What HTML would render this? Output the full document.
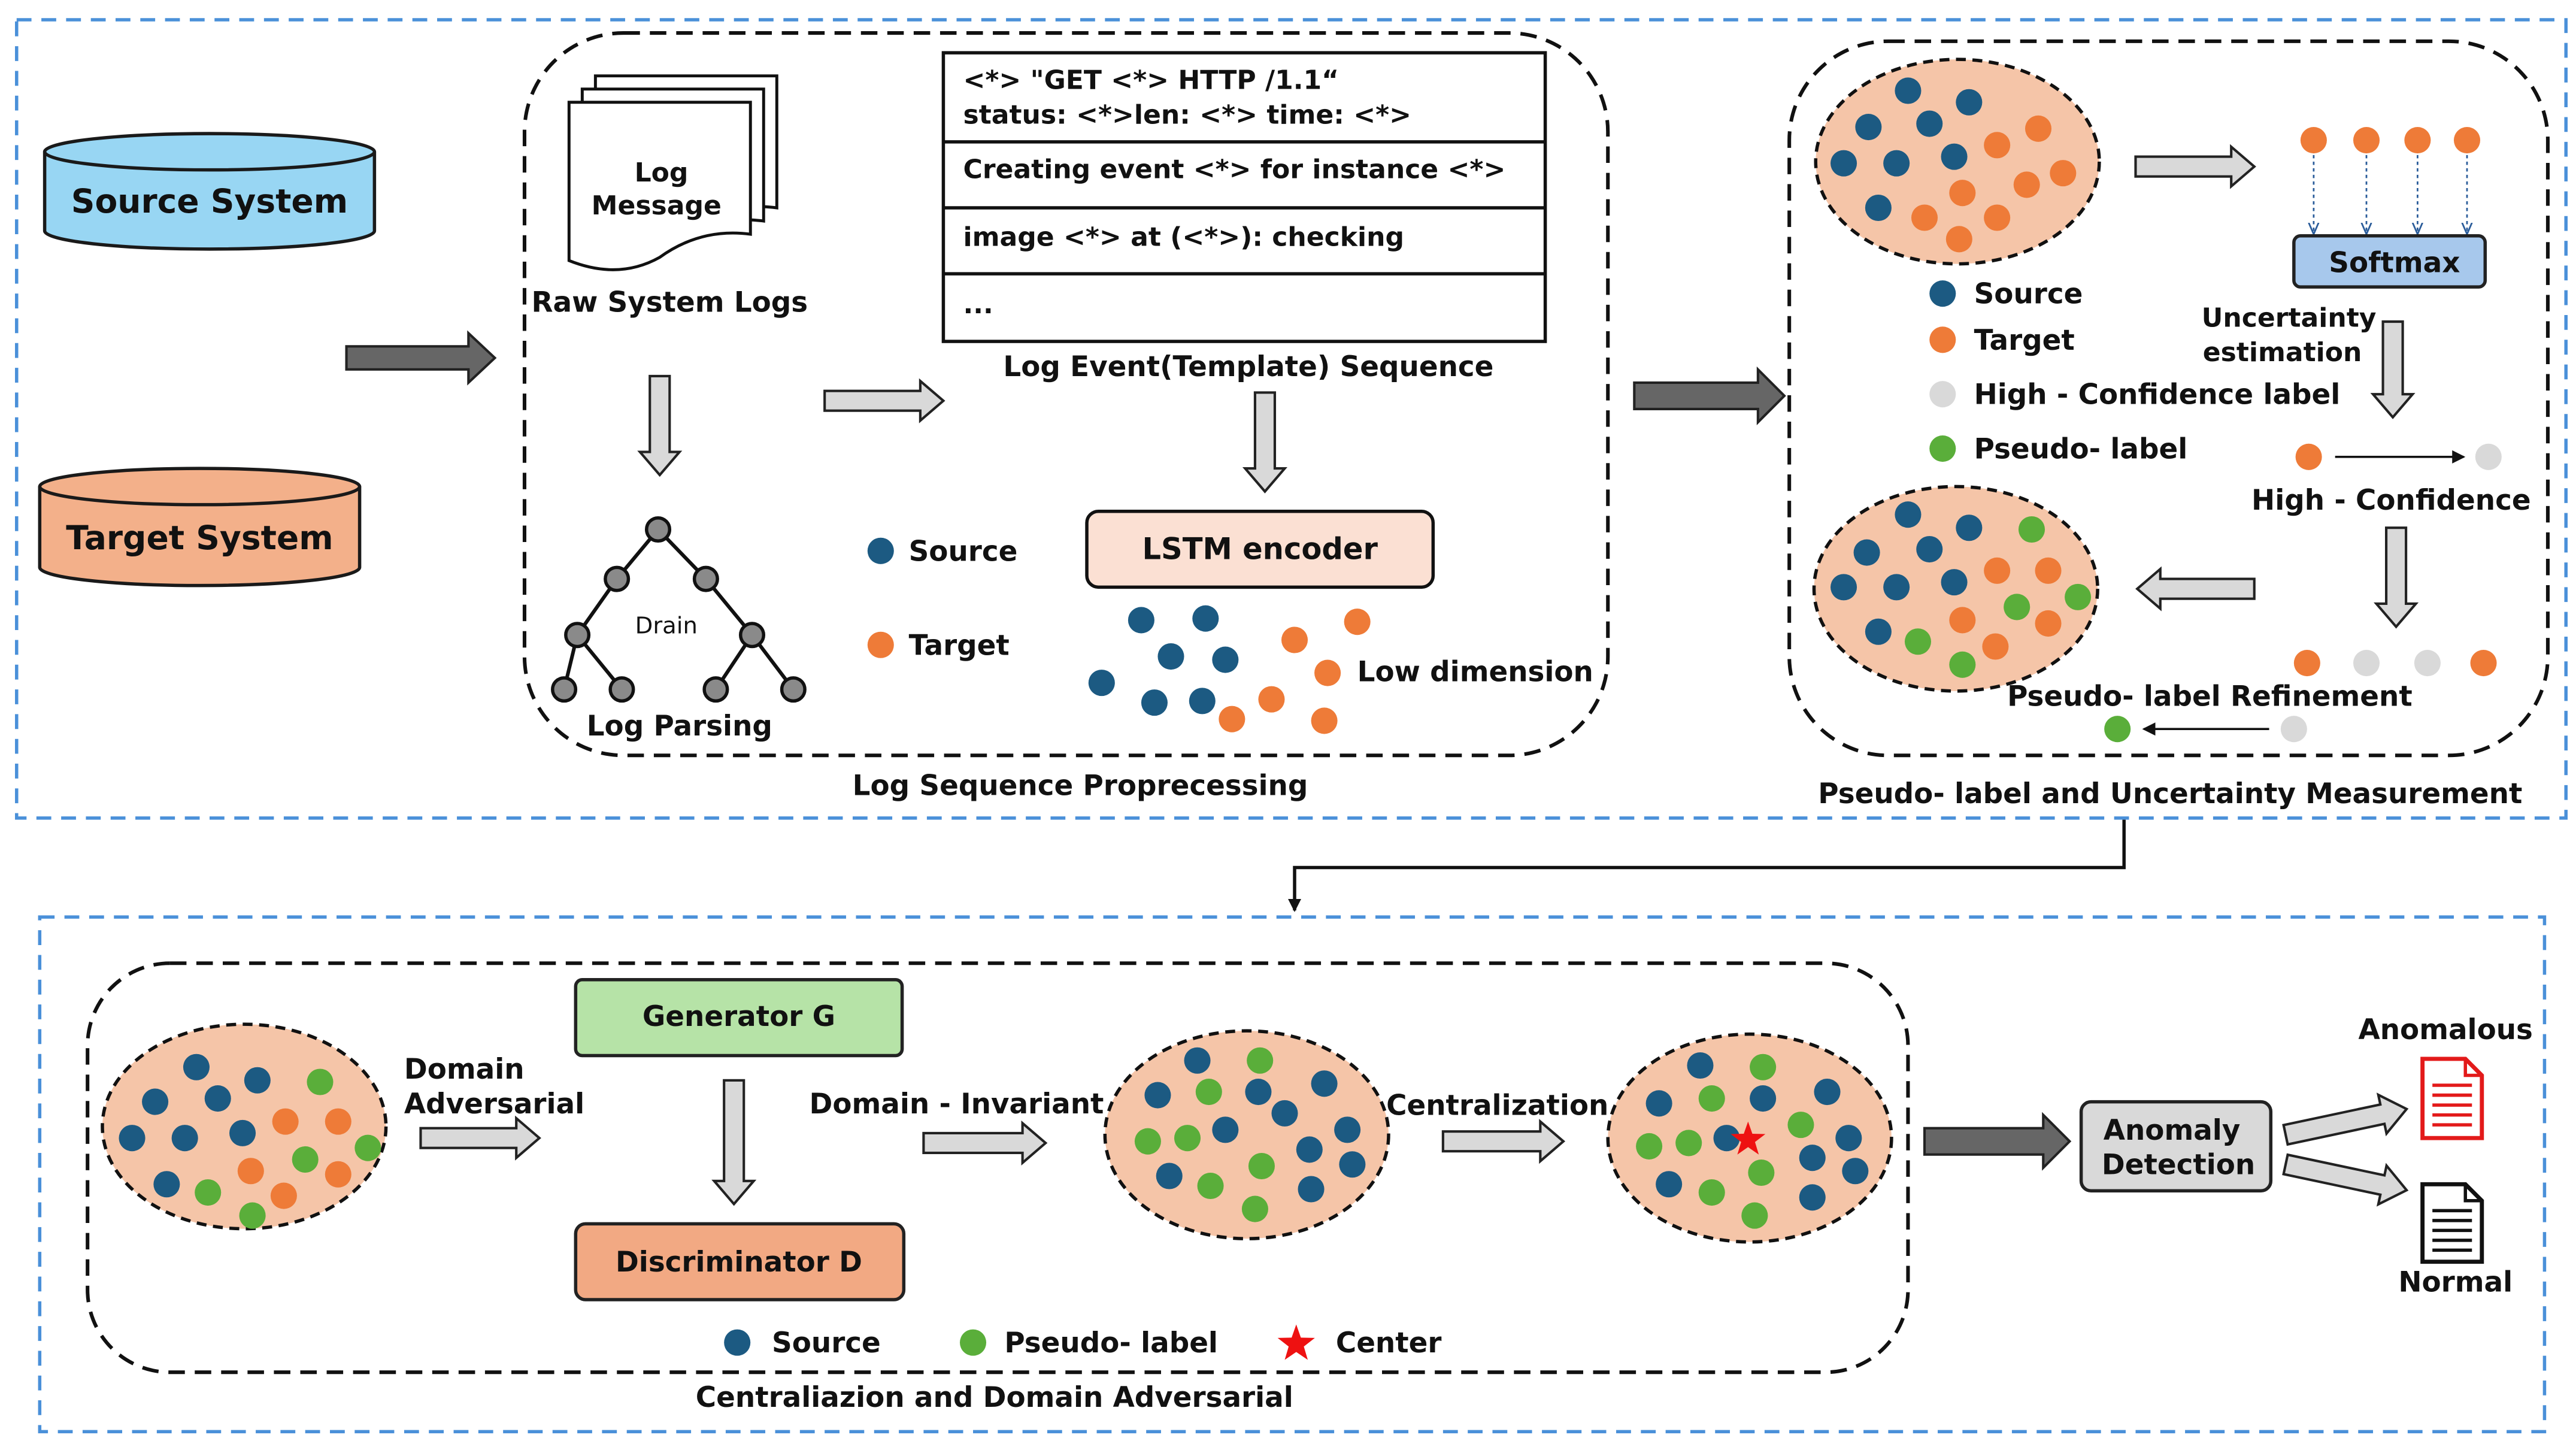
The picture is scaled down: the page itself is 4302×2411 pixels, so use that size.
<!DOCTYPE html>
<html><head><meta charset="utf-8"><style>
html,body{margin:0;padding:0;background:#fff;}
svg{display:block;}
text{font-family:"DejaVu Sans","Liberation Sans",sans-serif;font-weight:bold;fill:#111;}
</style></head><body>
<svg width="4302" height="2411" viewBox="0 0 1562 875.5" xmlns="http://www.w3.org/2000/svg">
<defs>
<marker id="ah" markerWidth="8" markerHeight="8" refX="7" refY="4" orient="auto" markerUnits="userSpaceOnUse"><path d="M0,0 L8,4 L0,8 z" fill="#111"/></marker>
<marker id="ahb" markerWidth="8" markerHeight="8" refX="7" refY="4" orient="auto" markerUnits="userSpaceOnUse"><path d="M0,1 L7,4 L0,7" fill="none" stroke="#2a5c9a" stroke-width="1"/></marker>
</defs>
<rect width="1562" height="876" fill="#fff"/>
<!-- outer boxes -->
<rect x="10" y="12" width="1546" height="484" fill="none" stroke="#4a90d9" stroke-width="2" stroke-dasharray="9,6"/>
<rect x="24" y="556" width="1519" height="312" fill="none" stroke="#4a90d9" stroke-width="2" stroke-dasharray="9,6"/>
<!-- inner dashed rounded boxes -->
<rect x="318" y="20" width="657" height="438" rx="60" fill="none" stroke="#111" stroke-width="2.2" stroke-dasharray="10,6"/>
<rect x="1085" y="25" width="460" height="433" rx="60" fill="none" stroke="#111" stroke-width="2.2" stroke-dasharray="10,6"/>
<rect x="53" y="584" width="1104" height="248" rx="50" fill="none" stroke="#111" stroke-width="2.2" stroke-dasharray="10,6"/>

<!-- cylinders -->
<path d="M27,92 L27,140 A100,11 0 0 0 227,140 L227,92" fill="#98d6f3" stroke="#1a1a1a" stroke-width="2"/>
<ellipse cx="127" cy="92" rx="100" ry="11" fill="#98d6f3" stroke="#1a1a1a" stroke-width="2"/>
<text x="127" y="129" font-size="20" text-anchor="middle">Source System</text>
<path d="M24,295 L24,344 A97,11 0 0 0 218,344 L218,295" fill="#f3b08a" stroke="#1a1a1a" stroke-width="2"/>
<ellipse cx="121" cy="295" rx="97" ry="11" fill="#f3b08a" stroke="#1a1a1a" stroke-width="2"/>
<text x="121" y="333" font-size="20" text-anchor="middle">Target System</text>

<!-- arrows -->
<g stroke="#222" stroke-width="1.5">
<polygon fill="#666" points="210,210 284,210 284,202 300,217 284,232 284,224 210,224"/>
<polygon fill="#d9d9d9" points="394,228 406,228 406,274 412,274 400,288 388,274 394,274"/>
<polygon fill="#d9d9d9" points="500,237 558,237 558,231 572,243 558,255 558,249 500,249"/>
<polygon fill="#d9d9d9" points="761,238 773,238 773,284 779,284 767,298 755,284 761,284"/>
<polygon fill="#666" points="991,232 1066,232 1066,224 1082,240 1066,256 1066,248 991,248"/>
<polygon fill="#d9d9d9" points="1295,95 1353,95 1353,89 1367,101 1353,113 1353,107 1295,107"/>
<polygon fill="#d9d9d9" points="1445,195 1457,195 1457,239 1463,239 1451,253 1439,239 1445,239"/>
<polygon fill="#d9d9d9" points="1447,320 1459,320 1459,366 1465,366 1453,380 1441,366 1447,366"/>
<polygon fill="#d9d9d9" points="1367,351 1310,351 1310,345 1296,357 1310,369 1310,363 1367,363"/>
<polygon fill="#d9d9d9" points="255,684 313,684 313,678 327,690 313,702 313,696 255,696"/>
<polygon fill="#d9d9d9" points="439,655 451,655 451,716 457,716 445,730 433,716 439,716"/>
<polygon fill="#d9d9d9" points="560,687 620,687 620,681 634,693 620,705 620,699 560,699"/>
<polygon fill="#d9d9d9" points="875,686 934,686 934,680 948,692 934,704 934,698 875,698"/>
<polygon fill="#666" points="1167,684 1239,684 1239,676 1255,692 1239,708 1239,700 1167,700"/>
<polygon fill="#d9d9d9" transform="translate(1386,688) rotate(-12)" points="0,-6 60,-6 60,-12 75,0 60,12 60,6 0,6"/>
<polygon fill="#d9d9d9" transform="translate(1386,706) rotate(12)" points="0,-6 60,-6 60,-12 75,0 60,12 60,6 0,6"/>
</g>
<!-- connector -->
<path d="M1288,497 L1288,526 L785,526 L785,552" fill="none" stroke="#111" stroke-width="2" marker-end="url(#ah)"/>

<!-- log message stack -->
<g stroke="#111" stroke-width="1.8" fill="#fff">
<path d="M361,46 L471,46 L471,126 Q441,122 416,140 Q391,154 361,142 Z"/>
<path d="M353,54 L463,54 L463,134 Q433,130 408,148 Q383,162 353,150 Z"/>
<path d="M345,62 L455,62 L455,142 Q425,138 400,156 Q375,170 345,158 Z"/>
</g>
<text x="401" y="110" font-size="16" text-anchor="middle">Log</text>
<text x="398" y="130" font-size="16" text-anchor="middle">Message</text>
<text x="406" y="189" font-size="17" text-anchor="middle">Raw System Logs</text>

<!-- tree -->
<g stroke="#111" stroke-width="2.2">
<line x1="399" y1="321" x2="374" y2="351"/><line x1="399" y1="321" x2="428" y2="351"/>
<line x1="374" y1="351" x2="350" y2="385"/><line x1="428" y1="351" x2="456" y2="385"/>
<line x1="350" y1="385" x2="342" y2="418"/><line x1="350" y1="385" x2="377" y2="418"/>
<line x1="456" y1="385" x2="434" y2="418"/><line x1="456" y1="385" x2="481" y2="418"/>
</g>
<g fill="#8a8a8a" stroke="#111" stroke-width="2">
<circle cx="399" cy="321" r="7"/><circle cx="374" cy="351" r="7"/><circle cx="428" cy="351" r="7"/>
<circle cx="350" cy="385" r="7"/><circle cx="456" cy="385" r="7"/><circle cx="342" cy="418" r="7"/>
<circle cx="377" cy="418" r="7"/><circle cx="434" cy="418" r="7"/><circle cx="481" cy="418" r="7"/>
</g>
<text x="404" y="384" font-size="14" font-weight="normal" style="font-weight:normal" text-anchor="middle">Drain</text>
<text x="412" y="446" font-size="17" text-anchor="middle">Log Parsing</text>

<!-- template table -->
<rect x="572" y="32" width="365" height="175" fill="#fff" stroke="#111" stroke-width="2"/>
<g stroke="#111" stroke-width="2"><line x1="572" y1="86" x2="937" y2="86"/><line x1="572" y1="126" x2="937" y2="126"/><line x1="572" y1="166" x2="937" y2="166"/></g>
<g font-size="16">
<text x="584" y="54">&lt;*&gt; "GET &lt;*&gt; HTTP /1.1“</text>
<text x="584" y="75">status: &lt;*&gt;len: &lt;*&gt; time: &lt;*&gt;</text>
<text x="584" y="108">Creating event &lt;*&gt; for instance &lt;*&gt;</text>
<text x="584" y="149">image &lt;*&gt; at (&lt;*&gt;): checking</text>
<text x="584" y="190">...</text>
</g>
<text x="757" y="228" font-size="17" text-anchor="middle">Log Event(Template) Sequence</text>

<rect x="659" y="310" width="210" height="46" rx="7" fill="#fbe0d3" stroke="#111" stroke-width="2"/>
<text x="764" y="339" font-size="18" text-anchor="middle">LSTM   encoder</text>

<g fill="#1c5a82"><circle cx="534" cy="334" r="8"/></g>
<g fill="#ee7b38"><circle cx="534" cy="391" r="8"/></g>
<text x="551" y="340" font-size="17">Source</text>
<text x="551" y="397" font-size="17">Target</text>

<g fill="#1c5a82">
<circle cx="692" cy="376" r="8"/><circle cx="731" cy="375" r="8"/><circle cx="710" cy="398" r="8"/><circle cx="743" cy="400" r="8"/>
<circle cx="668" cy="414" r="8"/><circle cx="700" cy="426" r="8"/><circle cx="729" cy="425" r="8"/>
</g>
<g fill="#ee7b38">
<circle cx="785" cy="388" r="8"/><circle cx="823" cy="377" r="8"/><circle cx="805" cy="408" r="8"/><circle cx="771" cy="424" r="8"/>
<circle cx="747" cy="436" r="8"/><circle cx="803" cy="437" r="8"/>
</g>
<text x="823" y="413" font-size="17">Low dimension</text>
<text x="655" y="482" font-size="17" text-anchor="middle">Log Sequence Proprecessing</text>

<!-- right section -->
<ellipse cx="1187" cy="98" rx="86" ry="62" fill="#f5c5a8" stroke="#111" stroke-width="2" stroke-dasharray="6,4"/>
<g fill="#1c5a82">
<circle cx="1157" cy="55" r="8"/><circle cx="1194" cy="62" r="8"/><circle cx="1133" cy="77" r="8"/><circle cx="1170" cy="75" r="8"/>
<circle cx="1118" cy="99" r="8"/><circle cx="1150" cy="99" r="8"/><circle cx="1185" cy="95" r="8"/><circle cx="1139" cy="126" r="8"/>
</g>
<g fill="#ee7b38">
<circle cx="1236" cy="78" r="8"/><circle cx="1211" cy="88" r="8"/><circle cx="1251" cy="105" r="8"/><circle cx="1229" cy="112" r="8"/>
<circle cx="1190" cy="117" r="8"/><circle cx="1167" cy="132" r="8"/><circle cx="1211" cy="132" r="8"/><circle cx="1188" cy="145" r="8"/>
</g>
<g fill="#ee7b38"><circle cx="1403" cy="85" r="8"/><circle cx="1435" cy="85" r="8"/><circle cx="1466" cy="85" r="8"/><circle cx="1496" cy="85" r="8"/></g>
<g stroke="#2a5c9a" stroke-width="1" stroke-dasharray="2,2" marker-end="url(#ahb)">
<line x1="1403" y1="94" x2="1403" y2="142"/><line x1="1435" y1="94" x2="1435" y2="142"/><line x1="1466" y1="94" x2="1466" y2="142"/><line x1="1496" y1="94" x2="1496" y2="142"/>
</g>
<rect x="1391" y="143" width="116" height="31" rx="4" fill="#a7c8ec" stroke="#222" stroke-width="2"/>
<text x="1452" y="165" font-size="17" text-anchor="middle">Softmax</text>
<text x="1388" y="198" font-size="16" text-anchor="middle">Uncertainty</text>
<text x="1384" y="219" font-size="16" text-anchor="middle">estimation</text>

<circle cx="1178" cy="178" r="8" fill="#1c5a82"/><text x="1197" y="184" font-size="17">Source</text>
<circle cx="1178" cy="206" r="8" fill="#ee7b38"/><text x="1197" y="212" font-size="17">Target</text>
<circle cx="1178" cy="239" r="8" fill="#d9d9d9"/><text x="1197" y="245" font-size="17">High - Confidence label</text>
<circle cx="1178" cy="272" r="8" fill="#5aae3a"/><text x="1197" y="278" font-size="17">Pseudo- label</text>

<circle cx="1400" cy="277" r="8" fill="#ee7b38"/>
<line x1="1416" y1="277" x2="1494" y2="277" stroke="#111" stroke-width="1.3" marker-end="url(#ah)"/>
<circle cx="1509" cy="277" r="8" fill="#d9d9d9"/>
<text x="1450" y="309" font-size="17" text-anchor="middle">High - Confidence</text>

<g><circle cx="1399" cy="402" r="8" fill="#ee7b38"/><circle cx="1435" cy="402" r="8" fill="#d9d9d9"/><circle cx="1472" cy="402" r="8" fill="#d9d9d9"/><circle cx="1506" cy="402" r="8" fill="#ee7b38"/></g>
<text x="1340" y="428" font-size="17" text-anchor="middle">Pseudo- label Refinement</text>
<circle cx="1284" cy="442" r="8" fill="#5aae3a"/>
<line x1="1376" y1="442" x2="1300" y2="442" stroke="#111" stroke-width="1.3" marker-end="url(#ah)"/>
<circle cx="1391" cy="442" r="8" fill="#d9d9d9"/>

<ellipse cx="1186" cy="357" rx="86" ry="62" fill="#f5c5a8" stroke="#111" stroke-width="2" stroke-dasharray="6,4"/>
<g fill="#1c5a82">
<circle cx="1157" cy="312" r="8"/><circle cx="1194" cy="320" r="8"/><circle cx="1132" cy="335" r="8"/><circle cx="1170" cy="333" r="8"/>
<circle cx="1118" cy="356" r="8"/><circle cx="1150" cy="356" r="8"/><circle cx="1185" cy="353" r="8"/><circle cx="1139" cy="383" r="8"/>
</g>
<g fill="#ee7b38">
<circle cx="1242" cy="346" r="8"/><circle cx="1211" cy="346" r="8"/><circle cx="1190" cy="376" r="8"/><circle cx="1242" cy="378" r="8"/><circle cx="1210" cy="392" r="8"/>
</g>
<g fill="#5aae3a">
<circle cx="1232" cy="321" r="8"/><circle cx="1260" cy="362" r="8"/><circle cx="1223" cy="368" r="8"/><circle cx="1163" cy="389" r="8"/><circle cx="1190" cy="403" r="8"/>
</g>
<text x="1316" y="487" font-size="17" text-anchor="middle">Pseudo- label and Uncertainty Measurement</text>

<!-- bottom section -->
<ellipse cx="148" cy="683" rx="86" ry="62" fill="#f5c5a8" stroke="#111" stroke-width="2" stroke-dasharray="6,4"/>
<g fill="#1c5a82">
<circle cx="119" cy="647" r="8"/><circle cx="156" cy="655" r="8"/><circle cx="94" cy="668" r="8"/><circle cx="132" cy="666" r="8"/>
<circle cx="80" cy="690" r="8"/><circle cx="112" cy="690" r="8"/><circle cx="147" cy="687" r="8"/><circle cx="101" cy="718" r="8"/>
</g>
<g fill="#ee7b38"><circle cx="173" cy="680" r="8"/><circle cx="205" cy="680" r="8"/><circle cx="152" cy="710" r="8"/><circle cx="205" cy="712" r="8"/><circle cx="172" cy="725" r="8"/></g>
<g fill="#5aae3a"><circle cx="194" cy="656" r="8"/><circle cx="223" cy="696" r="8"/><circle cx="185" cy="703" r="8"/><circle cx="126" cy="723" r="8"/><circle cx="153" cy="737" r="8"/></g>
<text x="245" y="654" font-size="17">Domain</text>
<text x="245" y="675" font-size="17">Adversarial</text>

<rect x="349" y="594" width="198" height="46" rx="4" fill="#b6e3a7" stroke="#222" stroke-width="2"/>
<text x="448" y="622" font-size="17" text-anchor="middle">Generator  G</text>
<rect x="349" y="742" width="199" height="46" rx="6" fill="#f2a983" stroke="#222" stroke-width="2"/>
<text x="448" y="771" font-size="17" text-anchor="middle">Discriminator  D</text>
<text x="580" y="675" font-size="17" text-anchor="middle">Domain - Invariant</text>

<ellipse cx="756" cy="688" rx="86" ry="63" fill="#f5c5a8" stroke="#111" stroke-width="2" stroke-dasharray="6,4"/>
<g fill="#1c5a82">
<circle cx="726" cy="643" r="8"/><circle cx="763" cy="662" r="8"/><circle cx="702" cy="664" r="8"/><circle cx="803" cy="657" r="8"/>
<circle cx="743" cy="685" r="8"/><circle cx="779" cy="675" r="8"/><circle cx="817" cy="685" r="8"/><circle cx="709" cy="713" r="8"/>
<circle cx="794" cy="697" r="8"/><circle cx="795" cy="721" r="8"/><circle cx="820" cy="706" r="8"/>
</g>
<g fill="#5aae3a">
<circle cx="764" cy="643" r="8"/><circle cx="733" cy="662" r="8"/><circle cx="696" cy="692" r="8"/><circle cx="720" cy="690" r="8"/>
<circle cx="765" cy="707" r="8"/><circle cx="734" cy="719" r="8"/><circle cx="761" cy="733" r="8"/>
</g>
<text x="908" y="676" font-size="17" text-anchor="middle">Centralization</text>

<ellipse cx="1061" cy="690" rx="86" ry="63" fill="#f5c5a8" stroke="#111" stroke-width="2" stroke-dasharray="6,4"/>
<g fill="#1c5a82">
<circle cx="1031" cy="646" r="8"/><circle cx="1069" cy="666" r="8"/><circle cx="1006" cy="669" r="8"/><circle cx="1108" cy="662" r="8"/>
<circle cx="1047" cy="690" r="8"/><circle cx="1121" cy="690" r="8"/><circle cx="1012" cy="718" r="8"/><circle cx="1099" cy="702" r="8"/>
<circle cx="1099" cy="726" r="8"/><circle cx="1125" cy="710" r="8"/>
</g>
<g fill="#5aae3a">
<circle cx="1069" cy="647" r="8"/><circle cx="1038" cy="666" r="8"/><circle cx="1000" cy="695" r="8"/><circle cx="1024" cy="693" r="8"/>
<circle cx="1092" cy="682" r="8"/><circle cx="1068" cy="711" r="8"/><circle cx="1038" cy="723" r="8"/><circle cx="1064" cy="737" r="8"/>
</g>
<polygon fill="#ee1111" points="1060,680 1062.6,687.4 1070.5,687.6 1064.2,692.4 1066.5,700 1060,695.5 1053.5,700 1055.8,692.4 1049.5,687.6 1057.4,687.4"/>

<rect x="1262" y="668" width="115" height="54" rx="6" fill="#d9d9d9" stroke="#222" stroke-width="2"/>
<text x="1317" y="691" font-size="17" text-anchor="middle">Anomaly</text>
<text x="1321" y="712" font-size="17" text-anchor="middle">Detection</text>

<!-- docs -->
<path d="M1469,642 L1495,642 L1505,652 L1505,690 L1469,690 Z" fill="#fff" stroke="#e31a1a" stroke-width="2.5"/>
<path d="M1495,642 L1495,652 L1505,652" fill="none" stroke="#e31a1a" stroke-width="2"/>
<g stroke="#e31a1a" stroke-width="2"><line x1="1475" y1="658" x2="1499" y2="658"/><line x1="1475" y1="664" x2="1499" y2="664"/><line x1="1475" y1="670" x2="1499" y2="670"/><line x1="1475" y1="676" x2="1499" y2="676"/><line x1="1475" y1="682" x2="1499" y2="682"/></g>
<path d="M1469,718 L1495,718 L1505,728 L1505,765 L1469,765 Z" fill="#fff" stroke="#111" stroke-width="2.5"/>
<path d="M1495,718 L1495,728 L1505,728" fill="none" stroke="#111" stroke-width="2"/>
<g stroke="#111" stroke-width="2"><line x1="1475" y1="734" x2="1499" y2="734"/><line x1="1475" y1="740" x2="1499" y2="740"/><line x1="1475" y1="746" x2="1499" y2="746"/><line x1="1475" y1="752" x2="1499" y2="752"/><line x1="1475" y1="758" x2="1499" y2="758"/></g>
<text x="1483" y="630" font-size="17" text-anchor="middle">Anomalous</text>
<text x="1489" y="783" font-size="17" text-anchor="middle">Normal</text>

<circle cx="447" cy="814" r="8" fill="#1c5a82"/><text x="468" y="820" font-size="17">Source</text>
<circle cx="590" cy="814" r="8" fill="#5aae3a"/><text x="609" y="820" font-size="17">Pseudo- label</text>
<polygon fill="#ee1111" points="786,803 788.8,811 797.3,811.2 790.6,816.4 793,824.5 786,819.7 779,824.5 781.4,816.4 774.7,811.2 783.2,811"/>
<text x="810" y="820" font-size="17">Center</text>
<text x="603" y="853" font-size="17" text-anchor="middle">Centraliazion and Domain Adversarial</text>
</svg>
</body></html>
